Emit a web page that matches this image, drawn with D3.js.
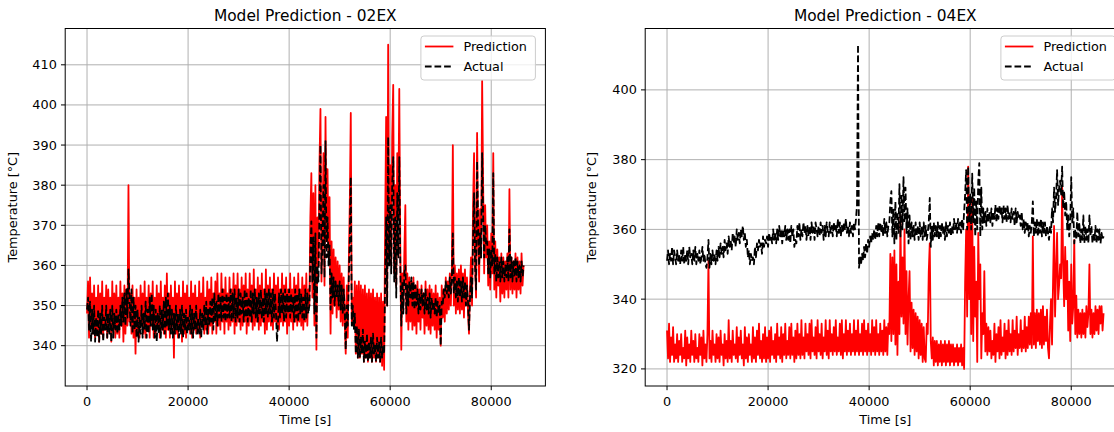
<!DOCTYPE html>
<html>
<head>
<meta charset="utf-8">
<script src="https://cdn.jsdelivr.net/npm/d3@7"></script>
<style>
  body { margin: 0; background: #fff; }
  svg { display: block; }
  text { font-family: "DejaVu Sans", sans-serif; fill: #000; }
</style>
</head>
<body>
<svg id="fig" width="1114" height="432"></svg>
<script>
// Samples are logged every 200 s over one day (0 .. 86400 s).
const stepSeconds = 200;

// Exhaust temperature 02EX [°C]
const predLeft = [
  348, 356, 342, 357, 345, 353, 343, 355, 342, 352,
  344, 355, 341, 353, 343, 356, 342, 352, 344, 355,
  342, 354, 345, 352, 341, 356, 344, 353, 342, 355,
  343, 352, 342, 356, 345, 353, 341, 355, 343, 354,
  345, 380, 346, 353, 343, 355, 342, 352, 338, 354,
  343, 352, 342, 355, 345, 353, 343, 356, 342, 352,
  344, 355, 342, 353, 345, 356, 342, 352, 343, 355,
  345, 353, 342, 356, 344, 352, 343, 355, 342, 358,
  344, 353, 342, 355, 345, 352, 337, 356, 343, 353,
  342, 355, 344, 352, 341, 356, 343, 353, 342, 355,
  345, 352, 343, 356, 342, 353, 344, 355, 343, 352,
  344, 356, 342, 353, 345, 357, 343, 352, 344, 356,
  343, 354, 345, 357, 343, 353, 346, 356, 343, 358,
  345, 353, 344, 358, 346, 354, 343, 357, 346, 353,
  344, 357, 345, 354, 346, 358, 343, 355, 345, 358,
  346, 354, 344, 357, 345, 355, 346, 358, 343, 354,
  345, 358, 346, 355, 344, 359, 345, 354, 346, 357,
  344, 355, 345, 358, 346, 354, 343, 359, 344, 355,
  346, 357, 345, 354, 344, 358, 346, 355, 345, 357,
  344, 354, 346, 358, 345, 355, 346, 357, 343, 354,
  345, 358, 346, 354, 344, 357, 346, 355, 345, 358,
  346, 354, 345, 357, 344, 355, 346, 358, 345, 354,
  350, 372, 383, 352, 378, 345, 380, 339, 372, 360,
  385, 399, 356, 370, 388, 355, 397, 366, 384, 362,
  377, 343, 366, 348, 364, 350, 362, 347, 361, 349,
  360, 346, 358, 345, 357, 346, 338, 355, 342, 360,
  375, 398, 346, 352, 345, 356, 338, 355, 337, 356,
  337, 355, 338, 354, 336, 355, 337, 353, 336, 354,
  337, 353, 336, 354, 337, 352, 336, 353, 337, 352,
  336, 353, 335, 351, 334, 370, 397, 350, 415, 362,
  385, 360, 392, 405, 358, 380, 355, 388, 372, 404,
  365, 339, 358, 349, 363, 375, 346, 358, 344, 357,
  346, 356, 344, 357, 345, 355, 343, 356, 346, 354,
  344, 355, 347, 353, 343, 356, 345, 354, 344, 355,
  343, 354, 345, 353, 344, 355, 342, 353, 344, 352,
  340, 355, 347, 354, 346, 357, 348, 356, 349, 358,
  350, 359, 390, 350, 360, 348, 358, 349, 359, 348,
  360, 349, 358, 347, 359, 350, 357, 348, 343, 355,
  362, 350, 375, 388, 360, 352, 393, 368, 356, 374,
  362, 406, 380, 358, 375, 362, 370, 355, 366, 354,
  368, 358, 388, 354, 366, 352, 364, 355, 362, 351,
  363, 353, 362, 352, 361, 354, 363, 352, 379, 354,
  362, 353, 361, 354, 363, 352, 362, 354, 361, 353,
  363, 355, 360
];
const actLeft = [
  349, 352, 344, 351, 341, 349, 343, 350, 341, 347,
  342, 349, 341, 348, 343, 350, 341, 347, 344, 350,
  342, 348, 343, 349, 341, 350, 342, 348, 344, 349,
  343, 348, 344, 350, 345, 352, 346, 353, 345, 354,
  347, 359, 352, 345, 354, 343, 352, 344, 350, 342,
  349, 341, 347, 343, 350, 342, 348, 344, 351, 342,
  349, 343, 352, 345, 353, 344, 350, 342, 349, 341,
  348, 343, 350, 342, 349, 344, 351, 343, 352, 345,
  353, 344, 350, 343, 349, 342, 348, 343, 350, 344,
  348, 342, 349, 343, 350, 342, 348, 344, 349, 343,
  347, 344, 350, 343, 349, 342, 348, 344, 350, 343,
  347, 343, 349, 342, 348, 344, 350, 345, 351, 343,
  349, 345, 351, 346, 352, 344, 353, 346, 351, 345,
  353, 347, 352, 346, 354, 347, 352, 346, 353, 347,
  352, 347, 354, 346, 353, 347, 354, 346, 352, 347,
  354, 346, 353, 348, 352, 346, 354, 347, 353, 346,
  352, 347, 354, 346, 353, 348, 354, 347, 352, 346,
  353, 348, 354, 347, 352, 346, 354, 348, 353, 347,
  354, 348, 353, 346, 354, 347, 353, 348, 341, 346,
  353, 347, 354, 348, 353, 346, 354, 347, 353, 348,
  354, 347, 353, 348, 352, 346, 354, 347, 353, 346,
  354, 348, 353, 347, 352, 346, 354, 347, 353, 348,
  350, 362, 371, 356, 367, 348, 368, 342, 360, 356,
  374, 390, 358, 365, 380, 357, 391, 362, 372, 360,
  365, 349, 358, 352, 357, 350, 356, 352, 355, 350,
  356, 349, 355, 348, 354, 349, 339, 350, 345, 356,
  366, 382, 345, 350, 344, 348, 338, 345, 337, 344,
  337, 342, 338, 344, 336, 341, 337, 343, 336, 341,
  337, 342, 336, 343, 338, 340, 336, 342, 337, 341,
  336, 342, 337, 340, 338, 355, 372, 350, 392, 360,
  375, 358, 380, 387, 356, 372, 352, 378, 362, 387,
  360, 345, 356, 348, 358, 360, 348, 355, 350, 356,
  352, 357, 350, 356, 349, 355, 350, 354, 348, 353,
  349, 354, 350, 353, 348, 354, 349, 352, 348, 353,
  347, 352, 349, 351, 348, 352, 347, 351, 348, 350,
  340, 351, 350, 354, 352, 356, 353, 355, 352, 357,
  353, 356, 368, 353, 357, 352, 356, 351, 357, 352,
  356, 351, 357, 352, 356, 350, 355, 351, 344, 352,
  357, 352, 366, 378, 360, 354, 386, 370, 360, 368,
  362, 388, 372, 362, 370, 365, 366, 358, 364, 357,
  364, 360, 383, 358, 363, 356, 362, 357, 361, 356,
  362, 357, 361, 356, 360, 357, 362, 356, 369, 357,
  362, 356, 361, 357, 362, 356, 361, 357, 360, 356,
  361, 357, 360
];

// Exhaust temperature 04EX [°C]
const predRight = [
  331, 323, 333, 322, 329, 324, 332, 322, 327, 323,
  330, 322, 328, 324, 330, 322, 326, 323, 331, 321,
  329, 323, 327, 322, 331, 324, 328, 322, 330, 323,
  326, 322, 330, 324, 329, 321, 331, 323, 327, 322,
  330, 351, 323, 328, 322, 331, 324, 327, 322, 330,
  323, 329, 322, 331, 324, 327, 321, 330, 323, 328,
  322, 334, 323, 328, 322, 331, 324, 327, 323, 332,
  322, 329, 324, 331, 323, 327, 321, 332, 323, 329,
  322, 330, 324, 327, 322, 332, 323, 329, 322, 331,
  324, 333, 323, 328, 322, 330, 323, 332, 322, 329,
  323, 331, 322, 332, 324, 328, 323, 330, 322, 333,
  324, 329, 323, 332, 322, 330, 324, 333, 323, 328,
  324, 332, 323, 333, 324, 329, 322, 331, 323, 333,
  324, 330, 323, 334, 324, 329, 323, 333, 325, 330,
  324, 333, 323, 334, 325, 329, 324, 332, 323, 334,
  325, 330, 324, 333, 323, 329, 325, 334, 324, 331,
  323, 334, 325, 330, 324, 332, 325, 334, 324, 329,
  325, 333, 324, 334, 323, 330, 325, 334, 324, 331,
  325, 333, 324, 330, 325, 334, 324, 331, 325, 334,
  324, 330, 325, 333, 324, 334, 325, 331, 324, 333,
  325, 330, 324, 334, 325, 332, 324, 334, 325, 330,
  324, 333, 325, 331, 324, 334, 325, 332, 324, 333,
  330, 353, 328, 352, 330, 354, 327, 350, 324, 345,
  330, 364, 335, 352, 333, 360, 330, 348, 327, 340,
  348, 325, 339, 326, 337, 324, 336, 325, 335, 323,
  334, 324, 333, 322, 332, 323, 322, 333, 330, 348,
  356, 328, 323, 329, 321, 328, 322, 328, 321, 327,
  322, 328, 321, 327, 322, 328, 321, 327, 322, 328,
  321, 327, 322, 327, 321, 326, 322, 327, 321, 326,
  322, 327, 321, 326, 320, 345, 360, 335, 378, 340,
  365, 330, 369, 328, 355, 335, 345, 322, 359, 340,
  350, 323, 336, 330, 348, 325, 333, 324, 332, 325,
  331, 323, 328, 324, 333, 322, 330, 325, 332, 323,
  334, 324, 329, 325, 333, 323, 331, 324, 334, 325,
  330, 324, 334, 325, 331, 326, 335, 324, 330, 326,
  334, 325, 331, 326, 335, 325, 332, 326, 335, 327,
  336, 326, 358, 327, 336, 326, 337, 328, 336, 327,
  337, 326, 338, 327, 335, 328, 337, 326, 323, 333,
  340, 327, 345, 361, 335, 348, 359, 340, 344, 350,
  346, 372, 350, 338, 355, 340, 351, 331, 345, 328,
  350, 333, 338, 357, 330, 341, 329, 337, 330, 336,
  329, 337, 330, 336, 329, 338, 332, 336, 350, 330,
  337, 329, 336, 330, 338, 331, 337, 330, 338, 333,
  338, 331, 336
];
const actRight = [
  351, 354, 350, 353, 351, 355, 350, 354, 352, 350,
  354, 351, 353, 350, 354, 351, 355, 350, 353, 351,
  354, 350, 355, 352, 353, 350, 354, 351, 355, 350,
  353, 351, 354, 350, 352, 355, 351, 353, 350, 349,
  352, 357, 349, 353, 350, 354, 351, 353, 350, 354,
  351, 355, 352, 356, 353, 355, 352, 357, 354, 356,
  353, 358, 355, 357, 354, 359, 356, 358, 355, 360,
  357, 359, 356, 360, 358, 361, 357, 359, 355, 357,
  352, 354, 350, 353, 351, 352, 350, 355, 352, 356,
  354, 357, 355, 356, 353, 358, 355, 357, 356, 358,
  355, 359, 357, 358, 356, 360, 357, 359, 356, 360,
  357, 361, 358, 360, 356, 360, 358, 361, 357, 360,
  357, 360, 356, 361, 358, 360, 355, 357, 356, 361,
  358, 362, 357, 360, 358, 362, 359, 361, 357, 361,
  358, 361, 357, 362, 359, 361, 357, 362, 360, 358,
  361, 358, 362, 359, 361, 357, 361, 358, 362, 359,
  358, 362, 359, 361, 358, 362, 360, 361, 358, 363,
  359, 362, 358, 361, 359, 362, 360, 363, 359, 361,
  358, 362, 359, 361, 358, 362, 360, 363, 367, 413,
  349, 352, 350, 353, 351, 355, 352, 356, 353, 357,
  355, 358, 356, 359, 357, 360, 357, 361, 358, 362,
  358, 362, 359, 361, 358, 363, 359, 362, 358, 361,
  362, 368, 371, 358, 366, 356, 368, 357, 365, 359,
  373, 358, 370, 360, 375, 362, 372, 359, 366, 356,
  364, 357, 362, 358, 361, 357, 362, 358, 361, 357,
  362, 358, 361, 357, 362, 358, 361, 357, 359, 362,
  369, 355, 361, 357, 362, 358, 361, 358, 362, 357,
  361, 358, 362, 359, 361, 357, 362, 358, 361, 359,
  362, 358, 361, 359, 363, 360, 362, 359, 363, 360,
  362, 359, 363, 360, 365, 370, 377, 360, 378, 362,
  370, 360, 376, 362, 372, 358, 368, 360, 374, 379,
  358, 372, 360, 366, 362, 365, 361, 366, 362, 365,
  362, 366, 361, 365, 363, 367, 362, 366, 363, 367,
  364, 366, 362, 367, 363, 366, 362, 367, 363, 365,
  362, 366, 363, 365, 361, 366, 362, 365, 363, 364,
  361, 365, 360, 363, 359, 362, 360, 362, 358, 361,
  359, 362, 368, 358, 362, 359, 363, 358, 362, 359,
  363, 358, 362, 359, 362, 358, 361, 359, 357, 361,
  359, 366, 362, 372, 365, 369, 377, 367, 372, 374,
  370, 378, 366, 371, 364, 368, 360, 364, 358, 362,
  375, 362, 366, 356, 360, 357, 365, 358, 362, 356,
  360, 357, 364, 356, 361, 357, 360, 356, 364, 358,
  361, 356, 359, 357, 361, 356, 360, 357, 360, 356,
  359, 357, 358
];

const xTicks = [0, 20000, 40000, 60000, 80000];
const yTicksLeft = [340, 350, 360, 370, 380, 390, 400, 410];
const yTicksRight = [320, 340, 360, 380, 400];
const seriesNames = ["Prediction", "Actual"];

const panels = [
  { title: "Model Prediction - 02EX", pred: predLeft, actual: actLeft,
    yTicks: yTicksLeft, yDomain: [329.95, 419.05], x0: 65.2, labelShift: -48 },
  { title: "Model Prediction - 04EX", pred: predRight, actual: actRight,
    yTicks: yTicksRight, yDomain: [315.1, 417.6], x0: 645.2, labelShift: -49 }
];

const svg = d3.select("#fig");
const axW = 480.2, axTop = 28.5, axH = 357.5;
const tickLen = 4.2, tickPad = 4.2;
const fontSize = 12.8, titleSize = 15.4;

panels.forEach((p, k) => {
  const g = svg.append("g").attr("transform", `translate(${p.x0},${axTop})`);
  const x = d3.scaleLinear().domain([-4320, 90720]).range([0, axW]);
  const y = d3.scaleLinear().domain(p.yDomain).range([axH, 0]);

  const clipId = "clip" + k;
  g.append("clipPath").attr("id", clipId)
    .append("rect").attr("width", axW).attr("height", axH);

  // grid
  g.append("g").selectAll("line").data(xTicks).join("line")
    .attr("x1", d => x(d)).attr("x2", d => x(d)).attr("y1", 0).attr("y2", axH)
    .attr("stroke", "#b0b0b0").attr("stroke-width", 1);
  g.append("g").selectAll("line").data(p.yTicks).join("line")
    .attr("y1", d => y(d)).attr("y2", d => y(d)).attr("x1", 0).attr("x2", axW)
    .attr("stroke", "#b0b0b0").attr("stroke-width", 1);

  const line = d3.line().x((d, i) => x(i * stepSeconds)).y(d => y(d));
  const plot = g.append("g").attr("clip-path", `url(#${clipId})`);
  plot.append("path").datum(p.pred).attr("d", line)
    .attr("fill", "none").attr("stroke", "#ff0000").attr("stroke-width", 1.8)
    .attr("stroke-linejoin", "round");
  plot.append("path").datum(p.actual).attr("d", line)
    .attr("fill", "none").attr("stroke", "#000").attr("stroke-width", 1.8)
    .attr("stroke-dasharray", "6.7,2.9").attr("stroke-linejoin", "round");

  // frame
  g.append("rect").attr("width", axW).attr("height", axH)
    .attr("fill", "none").attr("stroke", "#000").attr("stroke-width", 1);

  // x ticks
  const xt = g.append("g").attr("transform", `translate(0,${axH})`);
  xt.selectAll("line").data(xTicks).join("line")
    .attr("x1", d => x(d)).attr("x2", d => x(d)).attr("y1", 0).attr("y2", tickLen)
    .attr("stroke", "#000").attr("stroke-width", 1);
  xt.selectAll("text").data(xTicks).join("text")
    .attr("x", d => x(d)).attr("y", tickLen + tickPad + 11.5)
    .attr("text-anchor", "middle").attr("font-size", fontSize).text(d => d);

  // y ticks
  const yt = g.append("g");
  yt.selectAll("line").data(p.yTicks).join("line")
    .attr("y1", d => y(d)).attr("y2", d => y(d)).attr("x1", -tickLen).attr("x2", 0)
    .attr("stroke", "#000").attr("stroke-width", 1);
  yt.selectAll("text").data(p.yTicks).join("text")
    .attr("x", -tickLen - tickPad).attr("y", d => y(d)).attr("dy", "0.35em")
    .attr("text-anchor", "end").attr("font-size", fontSize).text(d => d);

  // labels
  g.append("text").attr("x", axW / 2).attr("y", -7.5)
    .attr("text-anchor", "middle").attr("font-size", titleSize).text(p.title);
  g.append("text").attr("x", axW / 2).attr("y", axH + 37.5)
    .attr("text-anchor", "middle").attr("font-size", fontSize).text("Time [s]");
  g.append("text")
    .attr("transform", `translate(${p.labelShift},${axH / 2}) rotate(-90)`)
    .attr("text-anchor", "middle").attr("font-size", fontSize).text("Temperature [°C]");

  // legend
  const lg = g.append("g").attr("transform", `translate(${axW - 124.5},${7.5})`);
  lg.append("rect").attr("width", 114.5).attr("height", 44).attr("rx", 3)
    .attr("fill", "#fff").attr("fill-opacity", 0.8)
    .attr("stroke", "#cccccc").attr("stroke-width", 1);
  seriesNames.forEach((name, j) => {
    const yy = 10.5 + j * 20;
    lg.append("line").attr("x1", 4).attr("x2", 32.5).attr("y1", yy).attr("y2", yy)
      .attr("stroke", j === 0 ? "#ff0000" : "#000").attr("stroke-width", 1.8)
      .attr("stroke-dasharray", j === 0 ? null : "6.7,2.9");
    lg.append("text").attr("x", 42.5).attr("y", yy).attr("dy", "0.35em")
      .attr("font-size", fontSize).text(name);
  });
});
</script>
</body>
</html>
